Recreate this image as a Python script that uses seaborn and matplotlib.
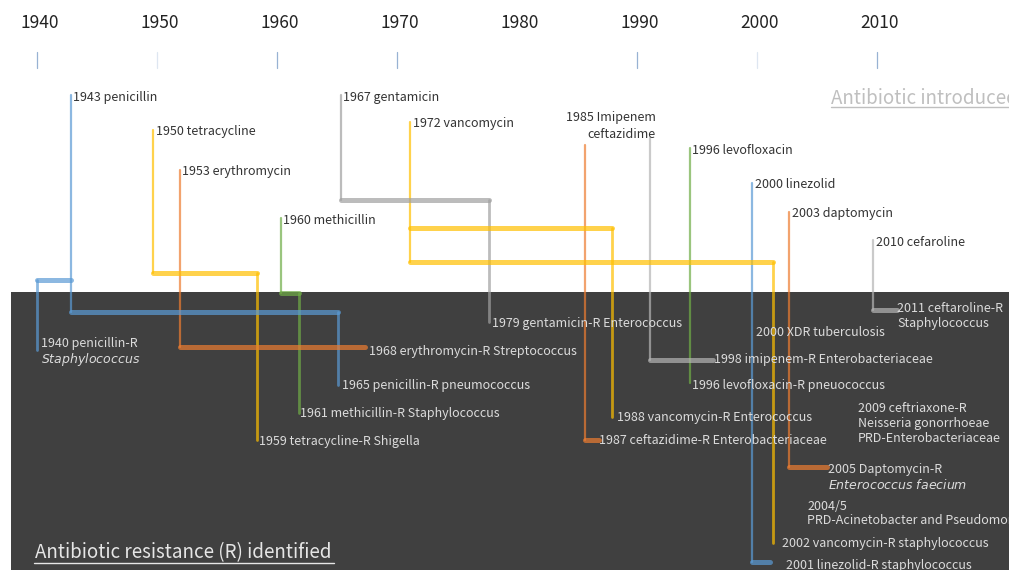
import seaborn as sns; import matplotlib.pyplot as plt
import numpy as np; import pandas as pd

# timeline of antibiotic introduction vs. resistance identified
# x is in years, y is a "row" (top = 0, bottom = 570)

tick_years = [1940, 1950, 1960, 1970, 1980, 1990, 2000, 2010]
tick_marks = [1940, 1950, 1960, 1970, 1990, 2000, 2010]
tick_faint = [1950, 2000]

drugs = ["penicillin", "tetracycline", "erythromycin", "methicillin", "gentamicin",
         "vancomycin", "ceftazidime", "imipenem", "levofloxacin", "linezolid",
         "daptomycin", "ceftaroline"]
drug_colors = ["#5b9bd5", "#ffc000", "#ed7d31", "#70ad47", "#a0a0a0", "#ffc000",
               "#ed7d31", "#b4b4b4", "#70ad47", "#5b9bd5", "#ed7d31", "#b4b4b4"]
intro_year = [1942.8, 1949.7, 1951.9, 1960.3, 1965.3, 1971.1,
              1985.7, 1991.1, 1994.4, 1999.6, 2002.7, 2009.7]
intro_row = [95, 130, 170, 218, 95, 122, 145, 138, 148, 183, 212, 240]
intro_text = ["1943 penicillin", "1950 tetracycline", "1953 erythromycin", "1960 methicillin",
              "1967 gentamicin", "1972 vancomycin", "", "1985 Imipenem\nceftazidime",
              "1996 levofloxacin", "2000 linezolid", "2003 daptomycin", "2010 cefaroline"]

# links from an introduced drug to a resistance event
link_drug = ["penicillin", "penicillin", "tetracycline", "erythromycin", "methicillin",
             "gentamicin", "vancomycin", "vancomycin", "ceftazidime", "imipenem",
             "levofloxacin", "linezolid", "daptomycin", "ceftaroline"]
link_year = [1940.0, 1965.1, 1958.3, 1967.3, 1961.8, 1977.7, 1987.9, 2001.3,
             1986.8, 1996.3, 1994.4, 2001.1, 2005.8, 2011.7]
link_bend = [280, 312, 273, 347, 293, 200, 228, 262, 440, 360, 383, 562, 467, 310]
link_end = [350, 385, 440, 347, 413, 322, 417, 543, 440, 360, 383, 562, 467, 310]

res_text = ["1940 penicillin-R", "$\\it{Staphylococcus}$",
            "1968 erythromycin-R Streptococcus", "1965 penicillin-R pneumococcus",
            "1961 methicillin-R Staphylococcus", "1959 tetracycline-R Shigella",
            "1979 gentamicin-R Enterococcus", "1988 vancomycin-R Enterococcus",
            "1987 ceftazidime-R Enterobacteriaceae", "2000 XDR tuberculosis",
            "2011 ceftaroline-R", "Staphylococcus",
            "1998 imipenem-R Enterobacteriaceae", "1996 levofloxacin-R pneuococcus",
            "2009 ceftriaxone-R", "Neisseria gonorrhoeae", "PRD-Enterobacteriaceae",
            "2005 Daptomycin-R", "$\\it{Enterococcus\\ faecium}$", "2004/5",
            "PRD-Acinetobacter and Pseudomonas", "2002 vancomycin-R staphylococcus",
            "2001 linezolid-R staphylococcus"]
res_year = [1940.3, 1940.3, 1967.7, 1965.4, 1961.9, 1958.5, 1977.9, 1988.3, 1986.8,
            1999.9, 2011.7, 2011.7, 1996.4, 1994.6, 2008.4, 2008.4, 2008.4,
            2005.9, 2005.9, 2004.2, 2004.2, 2002.1, 2002.4]
res_row = [343, 359, 352, 386, 414, 441, 323, 417, 441, 332, 309, 323, 360, 385,
           409, 424, 438, 470, 485, 506, 520, 543, 566]

pal = dict(zip(drugs, drug_colors))

# build segments: one stem per drug, then bar + drop per link
rows = []
seg = 0
for d, x, top in zip(drugs, intro_year, intro_row):
    bends = [b for ld, b in zip(link_drug, link_bend) if ld == d]
    rows += [(seg, "stem", d, x, top), (seg, "stem", d, x, max(bends))]
    seg += 1
for d, x1, b, e in zip(link_drug, link_year, link_bend, link_end):
    x0 = intro_year[drugs.index(d)]
    if x1 != x0:
        rows += [(seg, "bar", d, x0, b), (seg, "bar", d, x1, b)]
        seg += 1
    if e != b:
        rows += [(seg, "drop", d, x1, b), (seg, "drop", d, x1, e)]
        seg += 1
df = pd.DataFrame(rows, columns=["seg", "kind", "drug", "x", "y"])

sns.set_theme(style="white")
plt.rcParams['font.family'] = ['Noto Sans CJK JP', 'DejaVu Sans']

fig = plt.figure(figsize=(10.09, 5.70), dpi=100)
ax = fig.add_axes([0, 0, 1, 1])
ax.axhspan(292, 570, xmin=11 / 1009, xmax=1, color="#404040", lw=0, zorder=0)

for kind, lw in [("stem", 1.6), ("drop", 2.0), ("bar", 3.6)]:
    sns.lineplot(data=df[df.kind == kind], x="x", y="y", units="seg", estimator=None,
                 sort=False, hue="drug", palette=pal, lw=lw, alpha=0.7,
                 legend=False, ax=ax)

# top axis
for yr in tick_years:
    ax.text(yr + 0.25, 23, str(yr), ha="center", va="center", fontsize=12.5,
            color="#222222")
for yr in tick_marks:
    ax.plot([yr, yr], [52, 68], color="#7f9fc8",
            alpha=0.25 if yr in tick_faint else 0.8, lw=0.9)

for x, top, t in zip(intro_year, intro_row, intro_text):
    if not t:
        continue
    if "\n" in t:
        ax.text(x + 0.45, top - 27, t, ha="right", va="top", fontsize=9,
                color="#333333", linespacing=1.45, multialignment="right")
    else:
        ax.text(x + 0.2, top + 2, t, ha="left", va="center", fontsize=9,
                color="#333333")

for t, x, r in zip(res_text, res_year, res_row):
    ax.text(x, r, t, ha="left", va="center", fontsize=9, color="#dcdcdc")

ax.text(1936.92 + 831 / 12, 98, "Antibiotic introduced", ha="left", va="center",
        fontsize=13.5, color="#bfbfbf", clip_on=True)
ax.plot([1936.92 + 831 / 12, 2021.5], [107, 107], color="#bfbfbf", lw=1)
ax.text(1936.92 + 35 / 12, 553, "Antibiotic resistance (R) identified", ha="left",
        va="center", fontsize=13.5, color="#e6e6e6")
ax.plot([1936.92 + 34 / 12, 1936.92 + 334 / 12], [563, 563], color="#e6e6e6", lw=1)

ax.set_xlim(1936.92, 2021.0)
ax.set_ylim(570, 0)
ax.axis("off")

plt.savefig("out.png", dpi=100)
